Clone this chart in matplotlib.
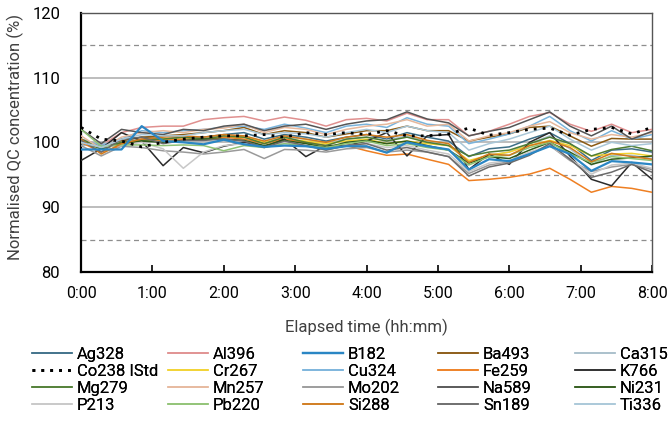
import numpy as np
import matplotlib
matplotlib.use('Agg')
import matplotlib.pyplot as plt

# elapsed time of each QC measurement (minutes)
minutes = [0, 17, 34, 51, 69, 86, 103, 120, 137, 154, 171, 189, 206, 223, 240,
           257, 274, 291, 309, 326, 343, 360, 377, 394, 411, 429, 446, 463, 480]

elements = ['Ag328', 'Al396', 'B182', 'Ba493', 'Ca315',
            'Co238 IStd', 'Cr267', 'Cu324', 'Fe259', 'K766',
            'Mg279', 'Mn257', 'Mo202', 'Na589', 'Ni231',
            'P213', 'Pb220', 'Si288', 'Sn189', 'Ti336']

colors = ['#3d6f88', '#e0908f', '#2a86c4', '#8b5a14', '#a9bfcb',
          '#000000', '#f2d22e', '#7ab4dc', '#ee7f22', '#2b2b2b',
          '#4f7d34', '#e6b89c', '#9a9a9a', '#555555', '#2f5a1a',
          '#c8c8c8', '#8fc274', '#d07a1c', '#6b6b6b', '#a9c7d8']

# normalised QC concentration (%) per element
Ag328 = [99.8, 99.5, 100.2, 100.8, 100.5, 100.8, 100.8, 101.2, 101.5, 100.5, 101.2, 100.8, 100.2, 100.8, 101.2,
         100.5, 101.5, 100.8, 100.2, 97.8, 99.0, 99.3, 100.5, 101.5, 99.8, 97.2, 98.8, 99.0, 98.5]
Al396 = [100.5, 99.5, 101.5, 102.3, 102.5, 102.5, 103.5, 103.8, 104.0, 103.3, 103.9, 103.4, 102.5, 103.5, 103.7,
         103.3, 104.5, 103.5, 103.5, 101.0, 101.7, 102.8, 104.0, 104.6, 102.8, 101.7, 102.8, 101.5, 102.0]
B182 = [98.9, 98.9, 98.9, 102.5, 100.2, 100.0, 99.7, 100.4, 99.7, 99.3, 99.5, 99.4, 99.0, 99.4, 99.4,
        98.4, 100.0, 99.4, 98.9, 95.8, 97.4, 97.1, 98.2, 99.4, 98.2, 95.6, 97.1, 96.9, 96.6]
Ba493 = [100.2, 99.2, 100.2, 100.8, 101.0, 101.2, 101.5, 101.8, 102.3, 101.2, 101.8, 101.5, 100.8, 101.3, 101.8,
         101.8, 102.5, 101.8, 101.8, 100.2, 100.8, 101.3, 102.3, 102.5, 101.0, 99.4, 100.6, 100.5, 100.5]
Ca315 = [99.5, 99.8, 100.0, 100.5, 100.0, 100.3, 100.5, 100.8, 101.0, 100.0, 100.8, 100.5, 99.8, 100.5, 100.8,
         100.3, 101.0, 100.2, 99.5, 97.0, 98.0, 98.5, 99.8, 101.0, 99.0, 96.5, 98.0, 98.0, 97.5]
Co238 = [102.3, 100.5, 100.2, 99.3, 100.0, 100.5, 100.8, 101.0, 101.0, 101.2, 100.8, 101.5, 101.2, 101.5, 101.2,
         101.8, 101.0, 101.0, 101.3, 102.2, 101.1, 101.5, 102.0, 102.2, 101.1, 102.0, 102.3, 101.3, 102.3]
Cr267 = [100.0, 99.0, 99.8, 100.3, 100.5, 100.5, 100.5, 100.8, 100.8, 100.0, 100.5, 100.2, 99.8, 100.2, 100.5,
         99.8, 100.2, 99.8, 99.5, 97.2, 98.0, 98.5, 99.5, 100.3, 99.5, 97.9, 98.2, 98.3, 97.9]
Cu324 = [100.5, 99.5, 100.5, 101.8, 101.5, 101.8, 102.0, 102.3, 102.5, 102.0, 102.8, 102.2, 101.5, 102.5, 102.8,
         102.3, 103.8, 102.8, 102.5, 99.8, 100.5, 101.3, 102.5, 104.0, 101.8, 100.2, 101.8, 100.5, 101.2]
Fe259 = [100.0, 98.5, 99.5, 100.5, 100.3, 100.5, 100.5, 100.8, 100.5, 99.8, 100.5, 100.0, 99.5, 99.5, 98.7,
         98.0, 98.2, 97.4, 96.6, 94.1, 94.3, 94.6, 95.1, 96.0, 94.3, 92.3, 93.2, 92.9, 92.3]
K766 = [97.2, 99.0, 101.5, 100.2, 96.4, 99.2, 98.4, 99.4, 100.0, 99.3, 100.5, 97.8, 99.5, 99.5, 100.2,
        101.5, 97.9, 101.0, 101.2, 95.8, 98.2, 96.6, 100.0, 101.5, 97.9, 94.3, 93.3, 96.9, 94.3]
Mg279 = [100.5, 99.2, 100.0, 100.3, 100.5, 100.8, 100.5, 101.0, 100.8, 99.8, 100.8, 100.0, 99.5, 100.5, 100.8,
         100.2, 100.8, 100.0, 99.5, 97.9, 98.5, 98.8, 99.8, 100.8, 99.8, 97.9, 98.9, 99.4, 98.7]
Mn257 = [101.0, 99.0, 100.8, 101.5, 101.8, 101.5, 102.0, 102.2, 102.8, 101.5, 102.3, 102.0, 101.2, 102.0, 102.5,
         102.8, 103.5, 102.5, 102.8, 100.2, 101.0, 101.5, 102.5, 103.2, 101.5, 100.5, 101.2, 100.8, 101.5]
Mo202 = [99.5, 97.9, 99.4, 99.2, 98.7, 98.5, 98.2, 98.5, 98.9, 97.5, 98.9, 98.8, 98.5, 99.0, 99.2,
         98.5, 98.8, 98.5, 97.8, 95.2, 96.5, 97.0, 98.2, 99.5, 97.2, 95.5, 96.2, 96.6, 95.8]
Na589 = [102.0, 99.8, 102.0, 101.5, 101.2, 102.0, 101.8, 102.5, 102.8, 101.8, 102.5, 102.8, 102.0, 102.8, 103.3,
         103.5, 104.7, 103.6, 103.0, 101.0, 101.7, 102.3, 103.5, 104.7, 102.5, 101.0, 102.5, 100.5, 101.7]
Ni231 = [100.2, 99.0, 99.8, 100.2, 100.0, 100.3, 100.5, 100.5, 100.3, 99.5, 100.3, 99.8, 99.2, 100.0, 100.3,
         99.8, 100.2, 99.5, 98.8, 96.8, 97.8, 97.5, 98.8, 100.0, 98.5, 96.6, 97.4, 97.6, 97.9]
P213 = [100.0, 99.3, 99.5, 100.0, 99.0, 96.0, 98.5, 99.5, 99.8, 99.2, 100.0, 99.5, 98.8, 99.5, 99.8,
        99.2, 99.5, 98.8, 98.2, 95.5, 96.8, 97.2, 98.5, 99.5, 97.5, 95.1, 96.5, 96.8, 96.0]
Pb220 = [102.0, 99.4, 99.6, 99.6, 99.5, 99.6, 99.5, 98.7, 99.5, 99.2, 99.8, 99.5, 99.2, 99.8, 100.2,
         99.5, 99.8, 99.2, 98.8, 96.5, 97.8, 98.0, 99.2, 100.0, 98.2, 96.9, 97.8, 97.5, 97.2]
Si288 = [100.5, 98.2, 99.8, 100.5, 100.8, 101.0, 100.8, 101.2, 101.0, 100.2, 101.0, 100.5, 100.0, 100.8, 101.2,
         100.8, 101.2, 100.3, 99.8, 96.9, 98.2, 98.0, 99.5, 100.2, 99.2, 97.0, 98.3, 97.8, 97.4]
Sn189 = [100.3, 98.5, 100.5, 100.8, 99.8, 100.3, 100.3, 100.5, 100.2, 99.2, 100.2, 99.5, 98.8, 99.5, 99.8,
         98.8, 99.2, 98.5, 97.8, 94.8, 96.2, 96.8, 98.0, 99.8, 97.4, 94.6, 95.4, 96.6, 95.4]
Ti336 = [100.0, 99.2, 100.5, 101.2, 101.0, 101.0, 101.5, 101.8, 102.0, 101.2, 101.5, 101.3, 100.8, 101.5, 102.0,
         101.5, 102.5, 101.8, 101.5, 98.8, 99.8, 100.5, 101.5, 102.5, 100.5, 98.8, 100.0, 99.5, 99.8]

series = [Ag328, Al396, B182, Ba493, Ca315, Co238, Cr267, Cu324, Fe259, K766,
          Mg279, Mn257, Mo202, Na589, Ni231, P213, Pb220, Si288, Sn189, Ti336]

hour_ticks = [0, 60, 120, 180, 240, 300, 360, 420, 480]
hour_labels = ['0:00', '1:00', '2:00', '3:00', '4:00', '5:00', '6:00', '7:00', '8:00']


def main():
    plt.rcParams['font.family'] = ['Roboto', 'DejaVu Sans']

    fig = plt.figure(figsize=(6.68, 4.44), dpi=100)
    ax = fig.add_axes([0.1213, 0.3874, 0.8548, 0.584])

    # grid: solid every 10 %, dashed half way between
    for y in [90, 100, 110]:
        ax.axhline(y, color='#b8b8b8', lw=1.3, zorder=0)
    for y in [85, 95, 105, 115]:
        ax.axhline(y, color='#8e8e8e', lw=0.9, ls=(0, (4, 3)), zorder=0)

    handles = []
    for name, vals, col in zip(elements, series, colors):
        if name.startswith('Co238'):
            h, = ax.plot(minutes, vals, color=col, lw=2.0, ls=(0, (1, 2.2)), zorder=5)
        elif name == 'B182':
            h, = ax.plot(minutes, vals, color=col, lw=1.6, zorder=4)
        else:
            h, = ax.plot(minutes, vals, color=col, lw=1.1, zorder=3)
        handles.append(h)

    ax.set_xlim(0, 480)
    ax.set_ylim(80, 120)
    ax.set_xticks(hour_ticks)
    ax.set_xticklabels(hour_labels, fontsize=11.5)
    ax.set_yticks([80, 90, 100, 110, 120])
    ax.set_yticklabels(['80', '90', '100', '110', '120'], fontsize=12)
    ax.tick_params(axis='x', direction='in', length=5, width=1.2, pad=10)
    ax.tick_params(axis='y', length=0, pad=15)

    for side in ['left', 'bottom']:
        ax.spines[side].set_linewidth(1.6)
        ax.spines[side].set_color('black')
    for side in ['top', 'right']:
        ax.spines[side].set_linewidth(1.0)
        ax.spines[side].set_color('#555555')

    ax.set_xlabel('Elapsed time (hh:mm)', fontsize=12, color='#404040')
    ax.xaxis.set_label_coords(0.5, -0.18)
    ax.set_ylabel('Normalised QC concentration (%)', fontsize=12, color='#404040')
    ax.yaxis.set_label_coords(-0.1, 0.52)

    # legend laid out as 5 evenly spaced columns, filled row by row
    col_x = [32, 168, 303, 438, 575]
    for c in range(5):
        leg = fig.legend(handles[c::5], elements[c::5], loc='upper left',
                         bbox_to_anchor=(col_x[c] / 668, 1 - 347 / 444),
                         frameon=False, fontsize=12, handlelength=2.4,
                         handletextpad=0.3, labelspacing=0.12, borderpad=0,
                         borderaxespad=0)
        fig.add_artist(leg)

    fig.savefig('out.png', dpi=100)


if __name__ == '__main__':
    main()
